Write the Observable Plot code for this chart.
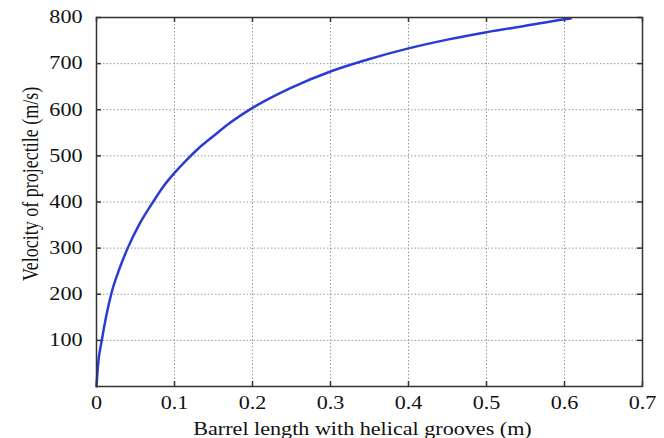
<!DOCTYPE html>
<html>
<head>
<meta charset="utf-8">
<script src="https://cdn.jsdelivr.net/npm/d3@7"></script>
<script src="https://cdn.jsdelivr.net/npm/@observablehq/plot@0.6"></script>
<style>
  html, body { margin: 0; padding: 0; background: #fff; }
</style>
</head>
<body>
<div id="chart"></div>
<script>
// Barrel length (m)
const barrelLength = [0, 0.0017, 0.0068, 0.0188, 0.030, 0.040, 0.055, 0.0725, 0.085, 0.1, 0.116, 0.13, 0.15, 0.17, 0.2, 0.25, 0.3, 0.35, 0.4, 0.45, 0.5, 0.55, 0.6, 0.608];
// Velocity of projectile (m/s)
const velocity =     [0, 42,     100,    200,    258,   300,   352,   400,    432,   463, 492,   515,  543,  570,  604, 648,  683, 710,  733, 752,  768, 782,  796, 798];
const xTicks = [0, 0.1, 0.2, 0.3, 0.4, 0.5, 0.6, 0.7];
const yTicks = [100, 200, 300, 400, 500, 600, 700, 800];
const xTickLabels = ["0", "0.1", "0.2", "0.3", "0.4", "0.5", "0.6", "0.7"];
const xTitle = "Barrel length with helical grooves (m)";
const yTitle = "Velocity of projectile (m/s)";

const data = barrelLength.map((x, i) => ({x, v: velocity[i]}));

const W = 664, H = 438;
const mL = 96, mR = 22, mT = 17, mB = 52;
const innerW = W - mL - mR, innerH = H - mT - mB;
const tick = 5;
const fs = 18;
const stretch = 1.23; // reference text is horizontally widened

const chart = Plot.plot({
  width: W,
  height: H,
  marginLeft: mL,
  marginRight: mR,
  marginTop: mT,
  marginBottom: mB,
  style: {fontFamily: "'Liberation Serif', 'Times New Roman', serif", fontSize: fs + "px", color: "#111", background: "#fff"},
  x: {domain: [0, 0.7]},
  y: {domain: [0, 800]},
  marks: [
    Plot.gridX(xTicks, {stroke: "#9a9a9a", strokeOpacity: 1, strokeDasharray: "1.5,2", strokeWidth: 1}),
    Plot.gridY(yTicks, {stroke: "#9a9a9a", strokeOpacity: 1, strokeDasharray: "1.5,2", strokeWidth: 1}),
    Plot.ruleX(xTicks, {stroke: "#333", strokeWidth: 1.5, insetTop: innerH - tick}),
    Plot.ruleX(xTicks, {stroke: "#333", strokeWidth: 1.5, insetBottom: innerH - tick}),
    Plot.ruleY(yTicks, {stroke: "#333", strokeWidth: 1.5, insetRight: innerW - tick}),
    Plot.ruleY(yTicks, {stroke: "#333", strokeWidth: 1.5, insetLeft: innerW - tick}),
    Plot.line(data, {x: "x", y: "v", stroke: "#2b3bd6", strokeWidth: 2.5, curve: "monotone-x"}),
    Plot.frame({stroke: "#333", strokeWidth: 1.5}),
    Plot.axisX(xTicks, {anchor: "bottom", tickSize: 0, tickPadding: 10, fontSize: fs, tickFormat: (d, i) => xTickLabels[i], label: null}),
    Plot.axisY(yTicks, {anchor: "left", tickSize: 0, tickPadding: 14, fontSize: fs, tickFormat: d => String(d), label: null}),
    Plot.text([xTitle], {frameAnchor: "bottom", text: d => d, dy: 48, dx: -7, lineAnchor: "bottom", textAnchor: "middle", fontSize: fs, fill: "#111"}),
    Plot.text([yTitle], {frameAnchor: "left", text: d => d, dx: -59, dy: -18, rotate: -90, lineAnchor: "bottom", textAnchor: "middle", fontSize: fs, fill: "#111"})
  ]
});

// widen glyphs horizontally (as in the reference), keeping anchors
d3.select(chart).selectAll("text").each(function() {
  const tr = this.getAttribute("transform") || "";
  const rotated = /rotate\(\s*-?90/.test(tr);
  this.setAttribute("transform", `${tr} ${rotated ? `scale(1,${stretch})` : `scale(${stretch},1)`}`);
});

document.getElementById("chart").appendChild(chart);
</script>
</body>
</html>
